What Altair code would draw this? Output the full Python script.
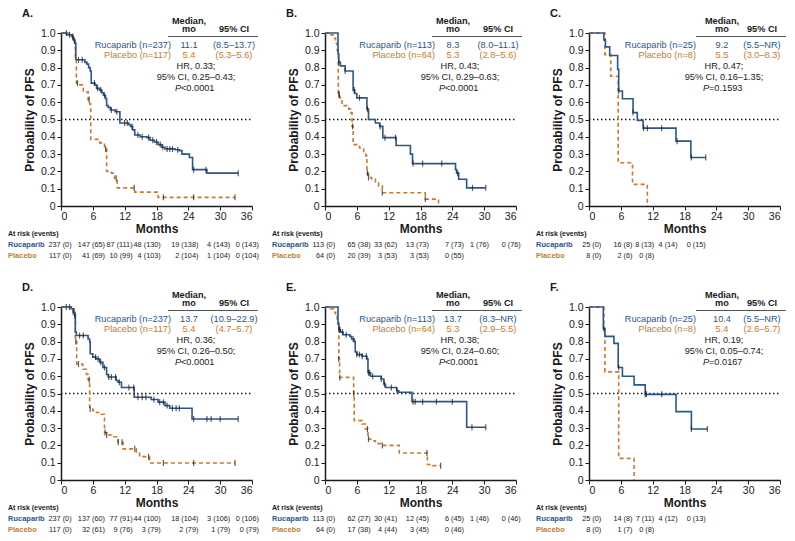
import altair as alt
import pandas as pd

# ---------------- data ----------------
A_ruc = [(0, 1.0), (1.1, 0.99), (2.0, 0.98), (2.3, 0.96), (2.6, 0.94), (2.8, 0.845), (4.5, 0.83), (4.9, 0.82),
         (5.2, 0.80), (5.5, 0.78), (5.7, 0.71), (6.4, 0.70), (6.7, 0.68), (7.3, 0.67), (7.7, 0.655), (8.0, 0.64),
         (8.4, 0.62), (8.6, 0.58), (8.9, 0.57), (9.3, 0.555), (10.2, 0.545), (11.1, 0.48), (12.8, 0.47),
         (13.1, 0.46), (13.5, 0.44), (13.9, 0.41), (14.9, 0.40), (16.2, 0.395), (16.8, 0.38), (17.6, 0.37),
         (18.3, 0.355), (19.0, 0.34), (19.6, 0.33), (21.5, 0.325), (22.3, 0.32), (22.8, 0.30), (24.2, 0.28),
         (24.8, 0.21), (27.5, 0.19), (33.4, 0.19)]
A_pla = [(0, 1.0), (1.5, 0.99), (2.3, 0.97), (2.6, 0.95), (2.7, 0.85), (2.9, 0.71), (3.3, 0.70), (4.2, 0.66),
         (5.1, 0.615), (5.4, 0.59), (5.6, 0.385), (7.3, 0.365), (8.2, 0.33), (8.6, 0.20), (9.5, 0.19),
         (10.1, 0.16), (10.6, 0.105), (13.9, 0.08), (18.3, 0.05), (32.8, 0.05)]
B_ruc = [(0, 1.0), (2.45, 0.88), (2.6, 0.83), (2.9, 0.81), (3.8, 0.78), (5.3, 0.67), (5.6, 0.65), (6.0, 0.625),
         (7.9, 0.56), (8.2, 0.50), (9.5, 0.48), (10.3, 0.46), (10.9, 0.395), (13.4, 0.35), (16.1, 0.30),
         (16.5, 0.245), (24.6, 0.21), (24.8, 0.19), (25.2, 0.155), (26.7, 0.105), (30.3, 0.105)]
B_pla = [(0, 1.0), (1.0, 0.99), (1.5, 0.97), (2.0, 0.94), (2.3, 0.90), (2.5, 0.645), (2.8, 0.625), (3.2, 0.58),
         (4.5, 0.56), (4.8, 0.54), (5.1, 0.46), (5.3, 0.355), (6.5, 0.335), (7.3, 0.31), (7.7, 0.29),
         (7.9, 0.19), (8.2, 0.165), (8.8, 0.155), (9.5, 0.135), (10.1, 0.115), (10.8, 0.077), (18.9, 0.04),
         (21.4, 0.0)]
C_ruc = [(0, 1.0), (2.8, 0.96), (3.1, 0.92), (3.9, 0.87), (5.4, 0.79), (5.6, 0.665), (6.3, 0.62), (8.3, 0.54),
         (9.1, 0.495), (10.2, 0.45), (16.4, 0.375), (19.2, 0.28), (22.0, 0.28)]
C_pla = [(0, 1.0), (3.0, 0.875), (4.1, 0.75), (5.5, 0.25), (8.2, 0.125), (11.0, 0.0)]
D_ruc = [(0, 1.0), (1.9, 0.99), (2.3, 0.97), (2.6, 0.95), (2.7, 0.855), (2.9, 0.835), (5.1, 0.815), (5.4, 0.80),
         (5.5, 0.73), (6.0, 0.71), (6.6, 0.70), (7.3, 0.68), (7.9, 0.65), (8.6, 0.61), (8.9, 0.595),
         (10.4, 0.575), (10.75, 0.565), (11.4, 0.535), (13.8, 0.478), (17.0, 0.465), (18.3, 0.45),
         (19.6, 0.43), (20.5, 0.415), (24.7, 0.353), (33.4, 0.353)]
D_pla = [(0, 1.0), (2.0, 0.99), (2.5, 0.96), (2.7, 0.80), (2.95, 0.67), (4.1, 0.64), (4.8, 0.61), (5.1, 0.58),
         (5.4, 0.41), (6.0, 0.40), (6.7, 0.39), (7.6, 0.38), (8.2, 0.275), (8.6, 0.26), (9.5, 0.25),
         (10.75, 0.218), (11.7, 0.18), (14.2, 0.156), (14.8, 0.135), (16.7, 0.098), (32.8, 0.098)]
E_ruc = [(0, 1.0), (2.45, 0.90), (2.6, 0.87), (2.9, 0.855), (3.4, 0.84), (4.7, 0.83), (5.0, 0.815), (5.5, 0.80),
         (5.7, 0.74), (6.0, 0.725), (7.0, 0.715), (7.9, 0.70), (8.1, 0.62), (8.6, 0.60), (10.6, 0.584),
         (11.1, 0.555), (11.4, 0.535), (13.5, 0.516), (13.9, 0.507), (16.4, 0.453), (26.7, 0.305), (30.3, 0.305)]
E_pla = [(0, 1.0), (1.0, 0.99), (1.6, 0.97), (2.0, 0.95), (2.3, 0.91), (2.6, 0.70), (2.75, 0.593), (5.4, 0.50),
         (5.5, 0.343), (7.0, 0.324), (7.6, 0.295), (8.1, 0.237), (8.6, 0.227), (9.5, 0.21), (10.7, 0.20),
         (14.0, 0.156), (19.3, 0.09), (20.3, 0.083), (21.8, 0.083)]
F_ruc = [(0, 1.0), (2.7, 0.875), (3.0, 0.83), (4.7, 0.79), (5.5, 0.65), (6.3, 0.60), (8.5, 0.55), (10.6, 0.495),
         (16.4, 0.395), (19.3, 0.295), (22.3, 0.295)]
F_pla = [(0, 1.0), (2.8, 0.875), (3.0, 0.625), (5.6, 0.125), (8.5, 0.0)]

# censoring times
A_ruc_cens = [1.0, 1.6, 2.2, 2.5, 3.3, 4.0, 6.3, 6.9, 7.5, 8.2, 9.5, 10.5, 12.0, 12.5, 13.4, 14.5, 15.3, 16.5,
              17.3, 18.0, 18.7, 19.2, 20.0, 20.5, 21.0, 22.0, 25.0, 27.3, 33.4]
A_pla_cens = [3.1, 5.3, 8.4, 10.4, 13.8, 19.3, 25.0, 32.8]
B_ruc_cens = [2.6, 3.8, 5.5, 6.5, 8.0, 10.4, 11.3, 13.3, 16.6, 18.4, 22.0, 25.0, 27.8, 30.3]
B_pla_cens = [2.6, 2.7, 5.2, 8.0, 8.2, 10.8, 18.9]
C_ruc_cens = [5.6, 8.3, 10.3, 11.0, 13.7, 16.6, 19.3, 22.0]
C_pla_cens = []
D_ruc_cens = [1.0, 1.6, 2.3, 2.6, 3.5, 4.2, 6.5, 7.0, 7.5, 8.2, 9.0, 9.5, 10.3, 11.0, 12.8, 13.7, 14.5, 15.3,
              16.0, 17.5, 18.6, 19.3, 20.0, 21.0, 21.7, 22.3, 25.0, 27.5, 28.3, 30.0, 33.4]
D_pla_cens = [2.8, 3.3, 5.3, 5.5, 8.3, 8.6, 10.8, 11.5, 13.9, 16.5, 19.3, 25.0, 32.8]
E_ruc_cens = [2.7, 2.8, 3.3, 4.0, 5.3, 6.0, 6.5, 7.0, 7.8, 8.2, 8.4, 9.0, 10.6, 11.2, 12.5, 13.6, 16.6, 17.0,
              18.4, 21.0, 24.0, 27.7, 30.3]
E_pla_cens = [2.6, 2.8, 5.4, 8.0, 8.2, 10.8, 19.2, 21.8]
F_ruc_cens = [2.8, 5.6, 10.6, 10.8, 13.7, 19.3, 22.3]
F_pla_cens = []

# legend table texts
A_leg = ["Rucaparib (n=237)", "11.1", "(8.5–13.7)", "Placebo (n=117)", "5.4", "(5.3–5.6)",
         "HR, 0.33;", "95% CI, 0.25–0.43;", "<0.0001"]
B_leg = ["Rucaparib (n=113)", "8.3", "(8.0–11.1)", "Placebo (n=64)", "5.3", "(2.8–5.6)",
         "HR, 0.43;", "95% CI, 0.29–0.63;", "<0.0001"]
C_leg = ["Rucaparib (n=25)", "9.2", "(5.5–NR)", "Placebo (n=8)", "5.5", "(3.0–8.3)",
         "HR, 0.47;", "95% CI, 0.16–1.35;", "=0.1593"]
D_leg = ["Rucaparib (n=237)", "13.7", "(10.9–22.9)", "Placebo (n=117)", "5.4", "(4.7–5.7)",
         "HR, 0.36;", "95% CI, 0.26–0.50;", "<0.0001"]
E_leg = ["Rucaparib (n=113)", "13.7", "(8.3–NR)", "Placebo (n=64)", "5.3", "(2.9–5.5)",
         "HR, 0.38;", "95% CI, 0.24–0.60;", "<0.0001"]
F_leg = ["Rucaparib (n=25)", "10.4", "(5.5–NR)", "Placebo (n=8)", "5.4", "(2.6–5.7)",
         "HR, 0.19;", "95% CI, 0.05–0.74;", "=0.0167"]

# at-risk tables
A_risk_ruc = ["237 (0)", "147 (65)", "87 (111)", "48 (130)", "19 (138)", "4 (143)", "0 (143)"]
A_risk_pla = ["117 (0)", "41 (69)", "10 (99)", "4 (103)", "2 (104)", "1 (104)", "0 (104)"]
B_risk_ruc = ["113 (0)", "65 (38)", "33 (62)", "13 (73)", "7 (73)", "1 (76)", "0 (76)"]
B_risk_pla = ["64 (0)", "20 (39)", "3 (53)", "3 (53)", "0 (55)"]
C_risk_ruc = ["25 (0)", "16 (8)", "8 (13)", "4 (14)", "0 (15)"]
C_risk_pla = ["8 (0)", "2 (6)", "0 (8)"]
D_risk_ruc = ["237 (0)", "137 (60)", "77 (91)", "44 (100)", "18 (104)", "3 (106)", "0 (106)"]
D_risk_pla = ["117 (0)", "32 (61)", "9 (76)", "3 (79)", "2 (79)", "1 (79)", "0 (79)"]
E_risk_ruc = ["113 (0)", "62 (27)", "30 (41)", "12 (45)", "6 (45)", "1 (46)", "0 (46)"]
E_risk_pla = ["64 (0)", "17 (38)", "4 (44)", "3 (45)", "0 (46)"]
F_risk_ruc = ["25 (0)", "14 (8)", "7 (11)", "4 (12)", "0 (13)"]
F_risk_pla = ["8 (0)", "1 (7)", "0 (8)"]

X_TICKS = [0, 6, 12, 18, 24, 30, 36]
Y_TICKS = [0, 0.1, 0.2, 0.3, 0.4, 0.5, 0.6, 0.7, 0.8, 0.9, 1.0]

# ---------------- layout / style ----------------
W, H = 191, 173
FONT = "Liberation Sans"
BLUE = "#2b568c"
ORANGE = "#c97a2c"
INK = "#1a1a1a"
# right edges (in months) of the at-risk table columns
RISK_COLS = {
    "AD": [2.0, 8.3, 13.5, 18.8, 25.9, 31.9, 37.3],
    "BE": [1.9, 8.6, 13.6, 19.6, 26.2, 30.9, 36.9],
    "CF": [2.3, 8.2, 12.3, 16.7, 22.0],
}
DUMMY = pd.DataFrame({"d": [0]})


def step_at(curve, t):
    s = curve[0][1]
    for tt, ss in curve:
        if tt <= t:
            s = ss
        else:
            break
    return s


def x_enc():
    return alt.X("t:Q", scale=alt.Scale(domain=[0, 36], nice=False, zero=False),
                 axis=alt.Axis(values=X_TICKS, title="Months", format="d", titlePadding=2, labelPadding=1))


def y_enc():
    return alt.Y("s:Q", scale=alt.Scale(domain=[0, 1], nice=False),
                 axis=alt.Axis(values=Y_TICKS, title="Probability of PFS",
                               labelExpr="datum.value == 0 ? '0' : format(datum.value, '.1f')",
                               titlePadding=4, labelPadding=2))


def txt(s, x, y, size=9.2, color=INK, weight="normal", align="center", style="normal"):
    return alt.Chart(DUMMY).mark_text(text=s, font=FONT, fontSize=size, color=color, fontWeight=weight,
                                      align=align, baseline="middle", fontStyle=style).encode(
        x=alt.value(x), y=alt.value(y))


def panel(letter, ruc, pla, ruc_c, pla_c, leg, risk_r, risk_p, cols, medx, namex):
    df_r = pd.DataFrame(ruc, columns=["t", "s"])
    df_p = pd.DataFrame(pla, columns=["t", "s"])
    cr = pd.DataFrame({"t": ruc_c, "s": [step_at(ruc, t) for t in ruc_c]})
    cp = pd.DataFrame({"t": pla_c, "s": [step_at(pla, t) for t in pla_c]})
    layers = []
    layers.append(alt.Chart(pd.DataFrame({"t": [0], "t2": [36], "s": [0.5]})).mark_rule(
        color=INK, strokeDash=[1.5, 2.5], strokeWidth=1.6).encode(x=x_enc(), x2="t2:Q", y=y_enc()))
    layers.append(alt.Chart(df_p).mark_line(interpolate="step-after", color=ORANGE, strokeWidth=1.6,
                                            strokeDash=[4, 3]).encode(x=x_enc(), y=y_enc()))
    layers.append(alt.Chart(df_r).mark_line(interpolate="step-after", color=BLUE, strokeWidth=1.6)
                  .encode(x=x_enc(), y=y_enc()))
    if len(pla_c):
        layers.append(alt.Chart(cp).mark_tick(orient="vertical", color=INK, size=6, thickness=1.2)
                      .encode(x=x_enc(), y=y_enc()))
    if len(ruc_c):
        layers.append(alt.Chart(cr).mark_tick(orient="vertical", color=INK, size=6, thickness=1.2)
                      .encode(x=x_enc(), y=y_enc()))
    # panel letter
    layers.append(txt(letter + ".", -39, -19, size=11, weight="bold", align="left"))
    # legend table
    layers.append(txt("Median,", medx, -12.5, weight="bold"))
    layers.append(txt("mo", medx, -4, weight="bold"))
    layers.append(txt("95% CI", 173, -4, weight="bold"))
    layers.append(alt.Chart(DUMMY).mark_rule(color="#555555", strokeWidth=1).encode(
        x=alt.value(107), x2=alt.value(197), y=alt.value(3.5)))
    layers.append(txt(leg[0], namex, 11.5, color=BLUE, align="right"))
    layers.append(txt(leg[1], medx, 11.5, color=BLUE))
    layers.append(txt(leg[2], 173, 11.5, color=BLUE))
    layers.append(txt(leg[3], namex, 22, color=ORANGE, align="right"))
    layers.append(txt(leg[4], medx, 22, color=ORANGE))
    layers.append(txt(leg[5], 173, 22, color=ORANGE))
    layers.append(txt(leg[6], 135, 33))
    layers.append(txt(leg[7], 135, 44))
    layers.append(txt("P", 114, 55, style="italic", align="left"))
    layers.append(txt(leg[8], 120, 55, align="left"))
    # at-risk table
    layers.append(txt("At risk (events)", -53, H + 28, size=7, weight="bold", align="left"))
    layers.append(txt("Rucaparib", -53, H + 39, size=7.5, weight="bold", color=BLUE, align="left"))
    layers.append(txt("Placebo", -53, H + 50, size=7.5, weight="bold", color=ORANGE, align="left"))
    rr = pd.DataFrame({"t": cols[:len(risk_r)], "lab": risk_r})
    rp = pd.DataFrame({"t": cols[:len(risk_p)], "lab": risk_p})
    layers.append(alt.Chart(rr).mark_text(font=FONT, fontSize=7.3, color="#222222", align="right",
                                          baseline="middle").encode(x=x_enc(), y=alt.value(H + 39),
                                                                    text="lab:N"))
    layers.append(alt.Chart(rp).mark_text(font=FONT, fontSize=7.3, color="#222222", align="right",
                                          baseline="middle").encode(x=x_enc(), y=alt.value(H + 50),
                                                                    text="lab:N"))
    return alt.layer(*layers).properties(width=W, height=H)


pA = panel("A", A_ruc, A_pla, A_ruc_cens, A_pla_cens, A_leg, A_risk_ruc, A_risk_pla, RISK_COLS["AD"], 128, 110)
pB = panel("B", B_ruc, B_pla, B_ruc_cens, B_pla_cens, B_leg, B_risk_ruc, B_risk_pla, RISK_COLS["BE"], 128, 110)
pC = panel("C", C_ruc, C_pla, C_ruc_cens, C_pla_cens, C_leg, C_risk_ruc, C_risk_pla, RISK_COLS["CF"], 133, 107)
pD = panel("D", D_ruc, D_pla, D_ruc_cens, D_pla_cens, D_leg, D_risk_ruc, D_risk_pla, RISK_COLS["AD"], 128, 110)
pE = panel("E", E_ruc, E_pla, E_ruc_cens, E_pla_cens, E_leg, E_risk_ruc, E_risk_pla, RISK_COLS["BE"], 128, 110)
pF = panel("F", F_ruc, F_pla, F_ruc_cens, F_pla_cens, F_leg, F_risk_ruc, F_risk_pla, RISK_COLS["CF"], 133, 107)

chart = alt.concat(pA, pB, pC, pD, pE, pF, columns=3, spacing={"row": 101, "column": 73},
                   bounds="flush").properties(
    padding={"left": 0, "top": 0, "right": 0, "bottom": 0}, background="white"
).configure_view(stroke=None).configure_axis(
    domainColor=INK, domainWidth=1.5, tickColor=INK, tickSize=4, tickWidth=1,
    labelFont=FONT, labelFontSize=10.5, labelColor=INK,
    titleFont=FONT, titleFontSize=12, titleFontWeight="bold", titleColor=INK, grid=False)

chart.save("out.html", embed_options={"renderer": "svg", "actions": False})
